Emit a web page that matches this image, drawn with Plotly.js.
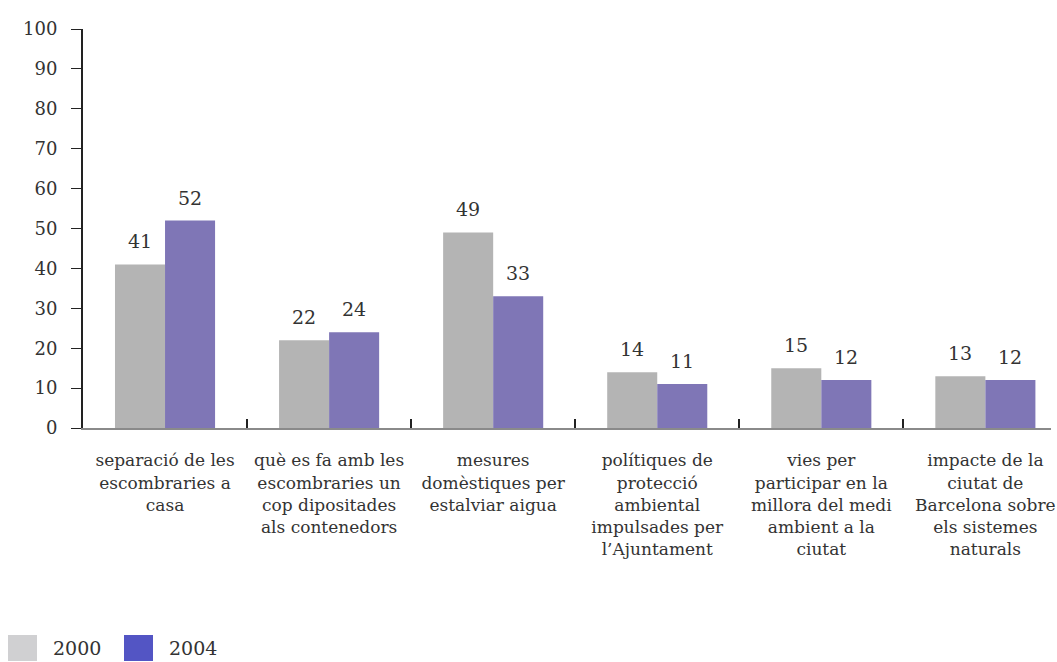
<!DOCTYPE html>
<html>
<head>
<meta charset="utf-8">
<script src="https://cdn.plot.ly/plotly-3.0.1.min.js"></script>
<style>html,body{margin:0;padding:0;background:#fff;}#chart{width:1057px;height:662px;}</style>
</head>
<body>
<div id="chart"></div>
<script>
var categories = [
  "separació de les<br>escombraries a<br>casa",
  "què es fa amb les<br>escombraries un<br>cop dipositades<br>als contenedors",
  "mesures<br>domèstiques per<br>estalviar aigua",
  "polítiques de<br>protecció<br>ambiental<br>impulsades per<br>l’Ajuntament",
  "vies per<br>participar en la<br>millora del medi<br>ambient a la<br>ciutat",
  "impacte de la<br>ciutat de<br>Barcelona sobre<br>els sistemes<br>naturals"
];
var values2000 = [41, 22, 49, 14, 15, 13];
var values2004 = [52, 24, 33, 11, 12, 12];
var seriesNames = ["2000", "2004"];
var barColors = ["#b4b4b4", "#7f76b6"];
var legendColors = ["#d0d0d2", "#5355c4"];
var yTicks = [0, 10, 20, 30, 40, 50, 60, 70, 80, 90, 100];

var FONT = "DejaVu Serif";

function barTrace(name, vals, color) {
  return {
    type: "bar", name: name, x: categories, y: vals,
    marker: {color: color},
    showlegend: false, hoverinfo: "x+y"
  };
}

var data = [
  barTrace(seriesNames[0], values2000, barColors[0]),
  barTrace(seriesNames[1], values2004, barColors[1])
];

var annotations = [];
[values2000, values2004].forEach(function (vals, s) {
  vals.forEach(function (v, i) {
    annotations.push({
      x: categories[i], y: v, xref: "x", yref: "y",
      xshift: s === 0 ? -25 : 25, yshift: 10,
      yanchor: "bottom", xanchor: "center", showarrow: false,
      text: String(v), font: {family: FONT, size: 19, color: "#333"}
    });
  });
});

var shapes = [];
seriesNames.forEach(function (n, i) {
  var x0 = 8 + i * 116;
  shapes.push({type: "rect", xref: "paper", yref: "paper",
    x0: (x0 - 83) / 968, x1: (x0 + 29 - 83) / 968,
    y0: -(661 - 428) / 399, y1: -(635 - 428) / 399,
    fillcolor: legendColors[i], line: {width: 0}});
  annotations.push({xref: "paper", yref: "paper",
    x: (x0 + 43 - 83) / 968, y: -(648 - 428) / 399,
    xanchor: "left", yanchor: "middle", showarrow: false,
    text: n, font: {family: FONT, size: 19, color: "#333"}});
});

var layout = {
  width: 1057, height: 662,
  margin: {l: 83, r: 6, t: 29, b: 234},
  paper_bgcolor: "#fff", plot_bgcolor: "#fff",
  barmode: "group", bargap: 0.39, bargroupgap: 0,
  showlegend: false,
  font: {family: FONT, color: "#333"},
  xaxis: {
    type: "category", range: [-0.5, 5.4], tickangle: 0,
    showline: true, linecolor: "#8a8a8a", linewidth: 2,
    tickson: "boundaries", ticks: "inside", ticklen: 9, tickwidth: 2, tickcolor: "#222",
    showgrid: false, zeroline: false,
    tickfont: {family: FONT, size: 17, color: "#333"},
    ticklabelstandoff: 16, automargin: false
  },
  yaxis: {
    range: [0, 100], tickvals: yTicks, ticktext: yTicks.map(String),
    showline: true, linecolor: "#222", linewidth: 2,
    ticks: "outside", ticklen: 10, tickwidth: 1, tickcolor: "#222",
    showgrid: false, zeroline: false,
    tickfont: {family: FONT, size: 18, color: "#333"},
    ticklabelstandoff: 10, automargin: false
  },
  shapes: shapes, annotations: annotations
};

Plotly.newPlot("chart", data, layout, {displayModeBar: false, staticPlot: true});
</script>
</body>
</html>
